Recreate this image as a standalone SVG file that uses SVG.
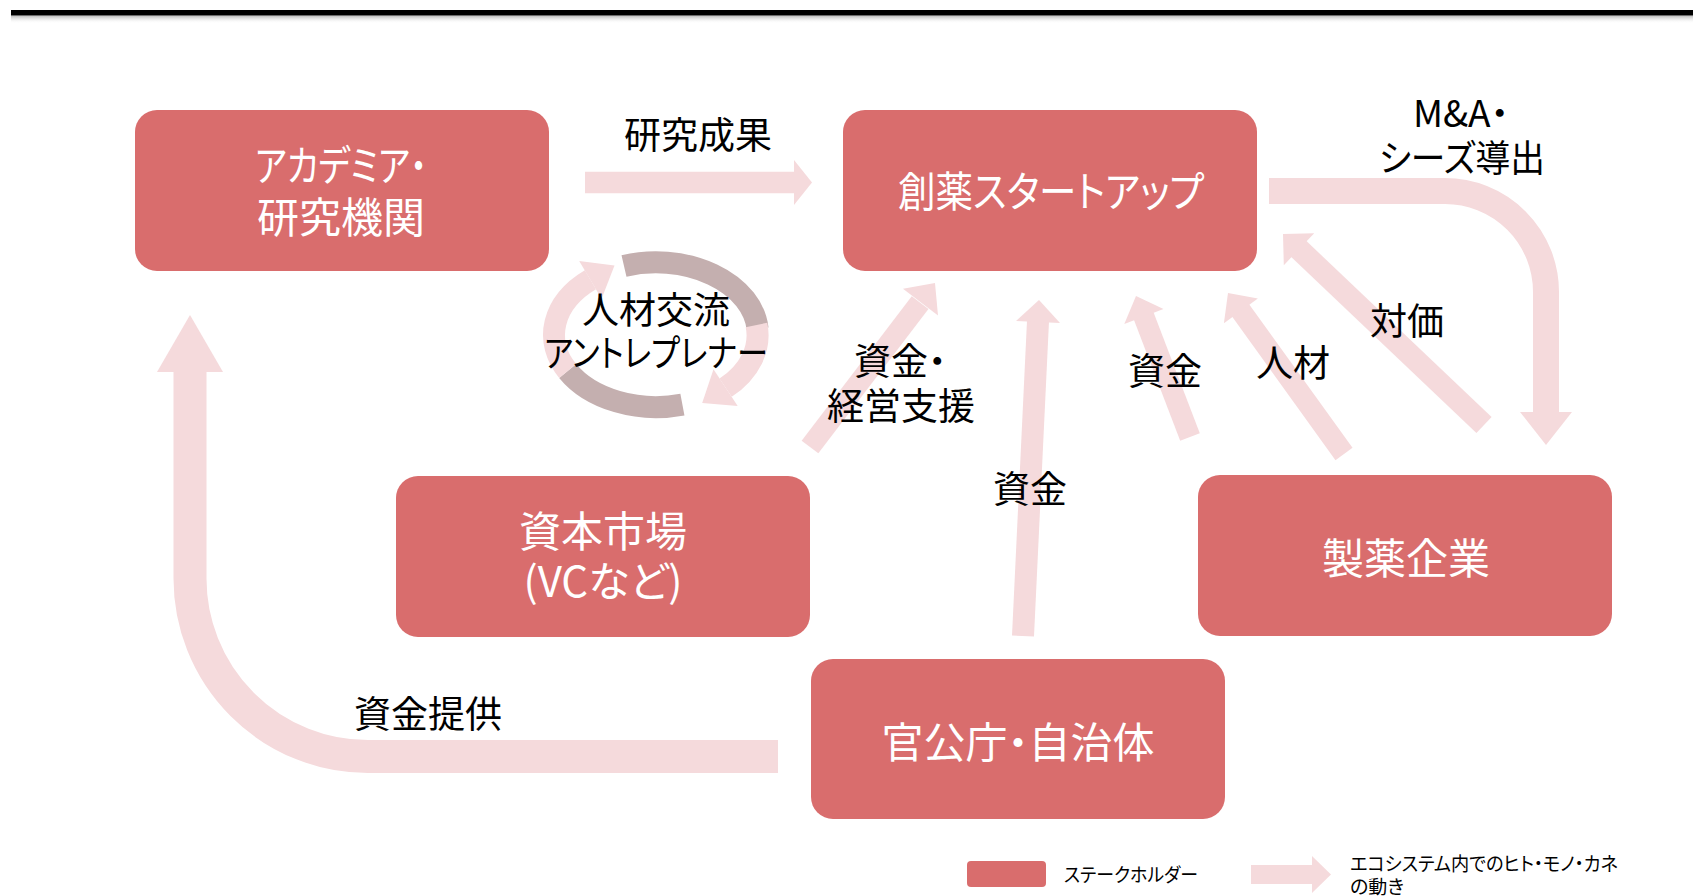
<svg xmlns="http://www.w3.org/2000/svg" width="1693" height="896" viewBox="0 0 1693 896">
<defs>
<linearGradient id="shadow" x1="0" y1="0" x2="0" y2="1">
<stop offset="0" stop-color="#888" stop-opacity="0.6"/>
<stop offset="1" stop-color="#fff" stop-opacity="0"/>
</linearGradient>
</defs>
<style>
text{font-family:"Noto Sans CJK JP","Noto Sans",sans-serif;font-feature-settings:"palt";}
.box{fill:#D96D6D;}
.wt{fill:#fff;font-size:42px;text-anchor:middle;}
.lb{fill:#000;font-size:37px;text-anchor:middle;}
.lg{fill:#000;font-size:19px;}
.shaft{stroke:#F5DADC;fill:none;}
.head{fill:#F5DADC;}
.cyc{fill:none;stroke-width:22;}
</style>
<rect width="1693" height="896" fill="#fff"/>
<rect x="11" y="15.5" width="1682" height="8" fill="url(#shadow)"/>
<rect x="11" y="10" width="1682" height="5.5" fill="#000"/>

<g id="connectors">
<!-- 研究成果 -->
<line class="shaft" x1="585" y1="182.5" x2="795" y2="182.5" stroke-width="21.6"/>
<polygon class="head" points="794,160 812,182.5 794,205"/>
<!-- M&A・シーズ導出 -->
<path class="shaft" d="M1269 191 H1445 A101 101 0 0 1 1546 292 V413" stroke-width="26"/>
<polygon class="head" points="1520,412 1572,412 1546,445"/>
<!-- 対価 -->
<line class="shaft" x1="1484" y1="425" x2="1298.3" y2="248.5" stroke-width="22"/>
<polygon class="head" points="1314.2,233.2 1283,234 1283.8,265.2"/>
<!-- 人材 -->
<line class="shaft" x1="1344" y1="454" x2="1240.4" y2="310.2" stroke-width="21"/>
<polygon class="head" points="1257.9,298.6 1228,293 1223.9,323.2"/>
<!-- 資金 (製薬→創薬) -->
<line class="shaft" x1="1190" y1="437" x2="1143.6" y2="315.8" stroke-width="21"/>
<polygon class="head" points="1163.5,309 1136,296 1124.3,324"/>
<!-- 資金 (官公庁→創薬) -->
<line class="shaft" x1="1023" y1="636" x2="1038" y2="321" stroke-width="22"/>
<polygon class="head" points="1060,323 1039,300 1016,321"/>
<!-- 資金・経営支援 -->
<line class="shaft" x1="810" y1="447" x2="920.1" y2="302.6" stroke-width="21"/>
<polygon class="head" points="938,315.4 935,283 903,288.8"/>
<!-- 資金提供 -->
<path class="shaft" d="M778 756.5 H368 A178 178 0 0 1 190 578.5 V371" stroke-width="33"/>
<polygon class="head" points="157,372 190,315 223,372"/>
<!-- 人材交流 cycle -->
<g id="cycle">
<path class="cyc" stroke="#C4AFAF" d="M624 266 A102 72 0 0 1 757.6 328.7"/>
<path class="cyc" stroke="#C4AFAF" stroke-width="25" d="M682.4 404.6 A102 72 0 0 1 567.7 371"/>
<path class="cyc" stroke="#F5DADC" d="M756.5 325 A102 72 0 0 1 725.6 387.7"/>
<polygon class="head" points="737.7,406.1 702.2,403.1 713.5,369.3"/>
<path class="cyc" stroke="#F5DADC" d="M567.7 371 A102 72 0 0 1 590.4 279.8"/>
<polygon class="head" points="601.6,298.7 614.5,265.5 579.2,260.9"/>
</g>
<!-- legend arrow -->
<line class="shaft" x1="1251" y1="874.5" x2="1313" y2="874.5" stroke-width="19"/>
<polygon class="head" points="1312,856 1331,874.5 1312,893"/>
</g>

<g id="labels">
<text class="lb" x="698" y="149">研究成果</text>
<text class="lb" x="1461" y="127">M&amp;A・</text>
<text class="lb" x="1462" y="172" textLength="166" lengthAdjust="spacingAndGlyphs">シーズ導出</text>
<text class="lb" x="1407" y="335">対価</text>
<text class="lb" x="1293" y="377">人材</text>
<text class="lb" x="1165" y="385">資金</text>
<text class="lb" x="1030" y="503">資金</text>
<text class="lb" x="854" y="375" style="text-anchor:start">資金・</text>
<text class="lb" x="901" y="420">経営支援</text>
<text class="lb" x="428" y="728">資金提供</text>
<text class="lb" x="656" y="324">人材交流</text>
<text class="lb" x="656" y="367" textLength="224" lengthAdjust="spacingAndGlyphs">アントレプレナー</text>
</g>

<g id="node-academia">
<rect class="box" x="135" y="110" width="414" height="161" rx="22"/>
<text class="wt" x="341" y="181" textLength="172" lengthAdjust="spacingAndGlyphs">アカデミア・</text>
<text class="wt" x="341" y="233">研究機関</text>
</g>
<g id="node-startup">
<rect class="box" x="843" y="110" width="414" height="161" rx="22"/>
<text class="wt" x="1051" y="207" textLength="306" lengthAdjust="spacingAndGlyphs">創薬スタートアップ</text>
</g>
<g id="node-capital">
<rect class="box" x="396" y="476" width="414" height="161" rx="22"/>
<text class="wt" x="603" y="547">資本市場</text>
<text class="wt" x="603" y="597">(VCなど)</text>
</g>
<g id="node-pharma">
<rect class="box" x="1198" y="475" width="414" height="161" rx="22"/>
<text class="wt" x="1406" y="574">製薬企業</text>
</g>
<g id="node-gov">
<rect class="box" x="811" y="659" width="414" height="160" rx="22"/>
<text class="wt" x="1018" y="758">官公庁・自治体</text>
</g>

<g id="legend">
<rect class="box" x="967" y="861" width="79" height="26" rx="4"/>
<text class="lg" x="1064" y="882" font-size="20" textLength="134" lengthAdjust="spacingAndGlyphs">ステークホルダー</text>
<text class="lg" x="1350" y="871" font-size="18" textLength="268" lengthAdjust="spacingAndGlyphs">エコシステム内でのヒト・モノ・カネ</text>
<text class="lg" x="1350" y="894" font-size="18">の動き</text>
</g>
</svg>
